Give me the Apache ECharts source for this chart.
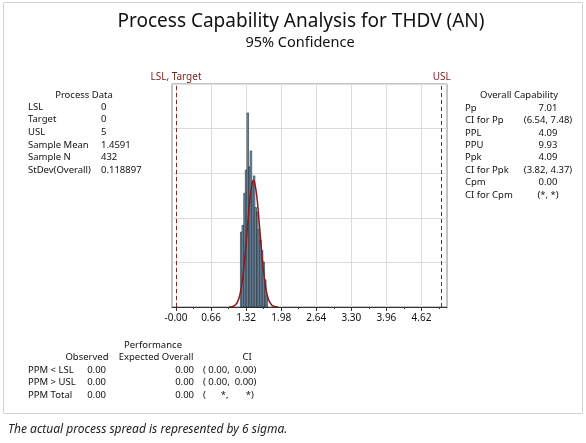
<!DOCTYPE html>
<html><head><meta charset="utf-8">
<script src="https://cdn.jsdelivr.net/npm/echarts@6/dist/echarts.min.js"></script>
<style>html,body{margin:0;padding:0;background:#fff}#c{width:586px;height:443px}</style>
</head><body><div id="c"></div>
<script>
// ---- data ----
const binCenters = [1.228,1.257,1.29,1.32,1.35,1.38,1.41,1.44,1.47,1.50,1.53,1.56,1.59,1.62,1.65,1.68,1.71];
const binHeights = [1.68,1.83,2.55,3.07,4.35,3.14,3.50,2.80,2.94,2.23,2.13,1.74,1.50,1.27,1.01,0.61,0.26];
const binWidth = 0.03;
const curveX = [1.00,1.04,1.08,1.12,1.16,1.20,1.24,1.28,1.32,1.36,1.40,1.44,1.459,1.48,1.52,1.56,1.60,1.64,1.68,1.72,1.76,1.80,1.84,1.88,1.92];
const curveY = [0.002,0.006,0.018,0.05,0.12,0.26,0.52,0.92,1.44,2.01,2.51,2.80,2.84,2.79,2.49,1.98,1.41,0.89,0.51,0.25,0.12,0.047,0.017,0.006,0.002];
const xTickValues = [0,0.66,1.32,1.98,2.64,3.30,3.96,4.62];
const xTickLabels = ['-0.00','0.66','1.32','1.98','2.64','3.30','3.96','4.62'];
const xMinorTicks = [0.33,0.99,1.65,2.31,2.97,3.63,4.29,4.95];
const lslValue = 0, uslValue = 5;
const specLabels = ['LSL, Target','USL'];

const processDataLabels = ['LSL','Target','USL','Sample Mean','Sample N','StDev(Overall)'];
const processDataValues = ['0','0','5','1.4591','432','0.118897'];
const capabilityLabels = ['Pp','CI for Pp','PPL','PPU','Ppk','CI for Ppk','Cpm','CI for Cpm'];
const capabilityValues = ['7.01','(6.54, 7.48)','4.09','9.93','4.09','(3.82, 4.37)','0.00','(*, *)'];
const perfRowLabels = ['PPM < LSL','PPM > USL','PPM Total'];
const perfObserved = ['0.00','0.00','0.00'];
const perfExpected = ['0.00','0.00','0.00'];
const perfCI = ['( 0.00,  0.00)','( 0.00,  0.00)','(      *,       *)'];

// ---- layout ----
const FF = '"Noto Sans", sans-serif';
const FS = 9.5;
const G = [];
function txt(t, x, y, size, align, extra) {
  G.push(Object.assign({type:'text', style:{text:t, x:x, y:y, font: size + 'px ' + FF, fill:'#111', align:align||'left', verticalAlign:'middle'}}, extra||{}));
}
// frame
G.push({type:'rect', shape:{x:3.5,y:2.5,width:579,height:411}, style:{fill:'none', stroke:'#d4d4d4', lineWidth:1}});
txt('Process Capability Analysis for THDV (AN)', 301, 22, 19, 'center');
txt('95% Confidence', 300, 43, 14.5, 'center');
// process data
txt('Process Data', 84, 95, FS, 'center');
processDataLabels.forEach((l,i)=>{ txt(l, 28, 107+i*12.6, FS, 'left'); txt(processDataValues[i], 101, 107+i*12.6, FS, 'left'); });
// overall capability
txt('Overall Capability', 519, 95, FS, 'center');
capabilityLabels.forEach((l,i)=>{ txt(l, 465, 108+i*12.4, FS, 'left'); txt(capabilityValues[i], 548, 108+i*12.4, FS, 'center'); });
// performance
txt('Performance', 153, 345, FS, 'center');
txt('Observed', 87, 357, FS, 'center');
txt('Expected Overall', 156, 357, FS, 'center');
txt('CI', 247, 357, FS, 'center');
perfRowLabels.forEach((l,i)=>{
  const y = 370 + i*12.5;
  txt(l, 28, y, FS, 'left');
  txt(perfObserved[i], 106, y, FS, 'right');
  txt(perfExpected[i], 194, y, FS, 'right');
  txt(perfCI[i], 203, y, FS, 'left');
});
G.push({type:'text', style:{text:'The actual process spread is represented by 6 sigma.', x:8, y:430, font:'italic 12px ' + FF, fill:'#222', verticalAlign:'middle'}});

const chart = echarts.init(document.getElementById('c'), null, {renderer:'canvas'});
chart.setOption({
  animation:false,
  backgroundColor:'#fff',
  grid:{left:172, right:139, top:84, bottom:136, show:true, borderColor:'#8a8a8a', borderWidth:1},
  xAxis:[{
    type:'value', min:-0.075, max:5.1,
    axisLine:{show:true, lineStyle:{color:'#333'}},
    axisTick:{show:true, length:4, customValues:xTickValues, lineStyle:{color:'#333'}},
    axisLabel:{customValues:xTickValues, formatter:(v)=>{const i=xTickValues.indexOf(v);return i>=0?xTickLabels[i]:'';}, color:'#111', fontSize:10, fontFamily:FF, margin:6},
    splitLine:{show:true, lineStyle:{color:'#dcdcdc'}}
  },{
    type:'value', min:-0.075, max:5.1, position:'bottom',
    axisLine:{show:false}, axisLabel:{show:false}, splitLine:{show:false},
    axisTick:{show:true, length:2, customValues:xMinorTicks, lineStyle:{color:'#333'}}
  }],
  yAxis:{type:'value', min:0, max:5, interval:1, axisLine:{show:false}, axisTick:{show:false}, axisLabel:{show:false}, splitLine:{show:true, lineStyle:{color:'#dcdcdc'}}},
  graphic:G,
  series:[{
    type:'custom',
    data: binCenters.map((c,i)=>[c, binHeights[i]]),
    renderItem:(params, api)=>{
      const x0 = api.coord([api.value(0)-binWidth/2, api.value(1)]);
      const x1 = api.coord([api.value(0)+binWidth/2, 0]);
      return {type:'rect', shape:{x:x0[0], y:x0[1], width:x1[0]-x0[0], height:x1[1]-x0[1]},
        style:{fill:'#7f9db8', stroke:'#1c2630', lineWidth:0.6}};
    },
    z:2
  },{
    type:'line', smooth:true, showSymbol:false,
    data: curveX.map((x,i)=>[x, curveY[i]]),
    lineStyle:{color:'#8b1a1a', width:1.5}, z:3,
    markLine:{
      silent:true, symbol:'none',
      lineStyle:{color:'#7a2b2b', type:[4,3], width:1},
      label:{show:true, position:'end', color:'#7a1f1f', fontSize:10, fontFamily:FF, distance:2, formatter:(p)=>p.name},
      data:[{xAxis:lslValue, name:specLabels[0]},{xAxis:uslValue, name:specLabels[1]}]
    }
  }]
});
</script></body></html>
